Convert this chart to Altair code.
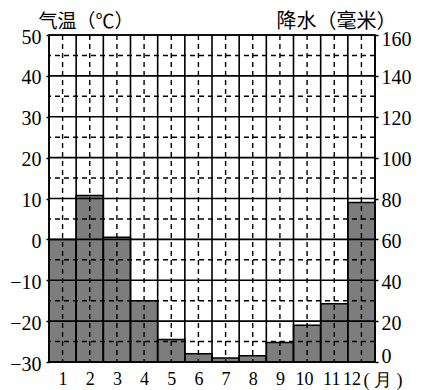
import altair as alt
import pandas as pd

months = list(range(1, 13))
precip = [60, 81.5, 61, 30, 11, 4, 2, 3, 9.5, 18, 28.5, 78]
temp_ticks = [-30, -20, -10, 0, 10, 20, 30, 40, 50]
temp_half = [-25, -15, -5, 5, 15, 25, 35, 45]
precip_ticks = [0, 20, 40, 60, 80, 100, 120, 140, 160]

df = pd.DataFrame({"month": months, "precip": precip})
df["start"] = df["month"] - 0.5
df["end"] = df["month"] + 0.5

vlines = pd.DataFrame({
    "x": [m - 0.5 for m in months] + [12.5] + months,
    "kind": ["solid"] * 13 + ["dash"] * 12,
})
hlines = pd.DataFrame({
    "t": temp_ticks + temp_half,
    "kind": ["solid"] * len(temp_ticks) + ["dash"] * len(temp_half),
})

xscale = alt.Scale(domain=[0.5, 12.5], nice=False, zero=False)
dash_scale = alt.Scale(domain=["solid", "dash"], range=[[1, 0], [5, 4]])
width_scale = alt.Scale(domain=["solid", "dash"], range=[1.6, 1.4])

SERIF = "'Liberation Serif', 'Times New Roman', serif"
CJK = "'Noto Sans CJK SC', sans-serif"

x_axis = alt.Axis(values=months, title="(  月  )", domain=False, ticks=False, grid=False,
                  labelOverlap=False, labelFlush=False,
                  labelFont=SERIF, labelFontSize=18, labelColor="black", labelPadding=8,
                  labelOffset={"condition": {"test": "datum.value == 12", "value": -10},
                               "expr": "datum.value >= 10 ? -3 : 0"},
                  titleFont=SERIF, titleFontSize=18, titleFontWeight="normal", titleColor="black",
                  titleAlign="left", titleX=314, titleY=23, titleBaseline="alphabetic",
                  titleAnchor="start")

bars = alt.Chart(df).mark_rect(color="#7d7d7d", stroke="black", strokeWidth=1.5).encode(
    x=alt.X("start:Q", scale=xscale, axis=x_axis),
    x2="end:Q",
    y=alt.Y("precip:Q", scale=alt.Scale(domain=[0, 160], nice=False, zero=False),
            axis=alt.Axis(orient="right", values=precip_ticks, title="降水（毫米）", domain=False,
                          grid=False, ticks=True, tickSize=3, tickColor="black", tickWidth=1.5,
                          labelOverlap=False, labelFlush=False,
                          labelOffset={"condition": {"test": "datum.value == 0", "value": -6},
                                       "expr": "datum.value == 160 ? 4 : 2"},
                          labelFont=SERIF, labelFontSize=20, labelColor="black", labelPadding=3,
                          titleFont=CJK, titleFontSize=20, titleFontWeight="normal", titleColor="black",
                          titleAngle=0, titleAlign="left", titleX=-99, titleY=-8,
                          titleBaseline="alphabetic")),
    y2=alt.datum(0),
)

vrules = alt.Chart(vlines).mark_rule(color="black").encode(
    x=alt.X("x:Q", scale=xscale, axis=x_axis),
    strokeDash=alt.StrokeDash("kind:N", scale=dash_scale, legend=None),
    strokeWidth=alt.StrokeWidth("kind:N", scale=width_scale, legend=None),
)

hrules = alt.Chart(hlines).mark_rule(color="black").encode(
    y=alt.Y("t:Q", scale=alt.Scale(domain=[-30, 50], nice=False, zero=False),
            axis=alt.Axis(orient="left", values=temp_ticks, title="气温（℃）", domain=False,
                          grid=False, ticks=True, tickSize=3, tickColor="black", tickWidth=1.5,
                          labelOverlap=False, labelFlush=False, labelOffset=2,
                          labelFont=SERIF, labelFontSize=20, labelColor="black", labelPadding=5,
                          titleFont=CJK, titleFontSize=19, titleFontWeight="normal", titleColor="black",
                          titleAngle=0, titleAlign="left", titleX=-11, titleY=-8,
                          titleBaseline="alphabetic")),
    strokeDash=alt.StrokeDash("kind:N", scale=dash_scale, legend=None),
    strokeWidth=alt.StrokeWidth("kind:N", scale=width_scale, legend=None),
)

chart = alt.layer(bars, vrules, hrules).resolve_scale(
    y="independent", strokeDash="shared", strokeWidth="shared"
).properties(
    width=326, height=327,
    autosize=alt.AutoSizeParams(type="none"),
    padding={"left": 41, "top": 27, "right": 40, "bottom": 28},
    background="white",
).configure_view(stroke="black", strokeWidth=1.6)

chart.save("out.html", embed_options={"renderer": "svg", "actions": False})
